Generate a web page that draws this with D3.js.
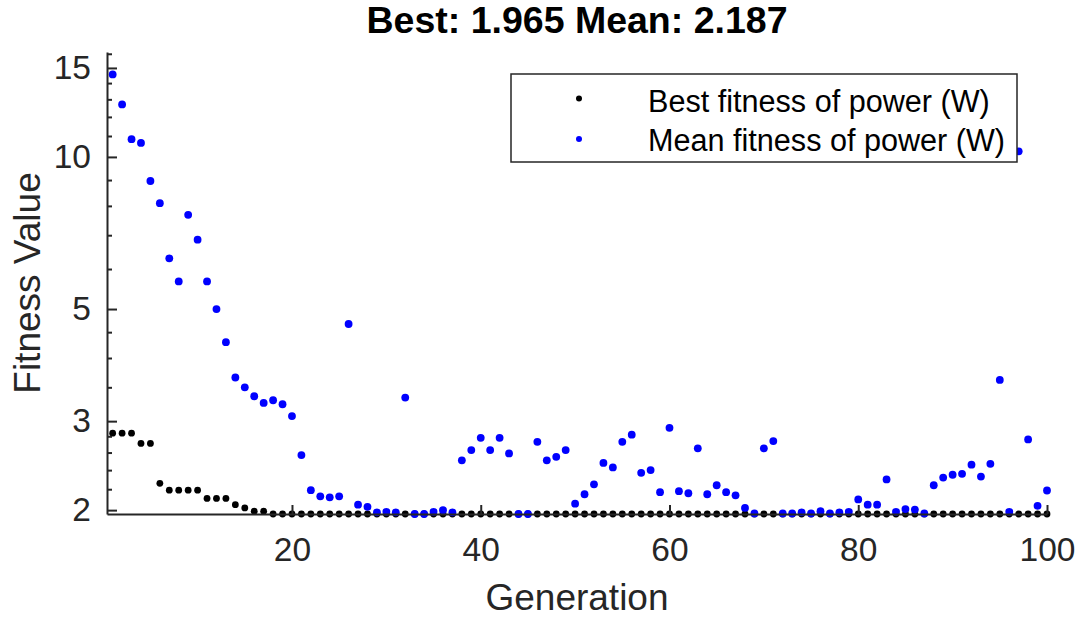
<!DOCTYPE html>
<html>
<head>
<meta charset="utf-8">
<script src="https://cdn.jsdelivr.net/npm/d3@7"></script>
<style>
  body { margin: 0; background: #fff; }
  text { font-family: "Liberation Sans", Arial, sans-serif; }
</style>
</head>
<body>
<div id="chart"></div>
<script>
// GA fitness plot, log y axis
const margin = {top: 52, right: 39, bottom: 107, left: 107};
let width = 1086, height = 621;

// best fitness per generation (1..100)
const bestFitness = [
  2.84, 2.84, 2.84, 2.71, 2.71, 2.26, 2.19, 2.19, 2.19, 2.19,
  2.11, 2.11, 2.11, 2.05, 2.02, 1.99, 1.99, 1.965, 1.965, 1.965,
  1.965, 1.965, 1.965, 1.965, 1.965, 1.965, 1.965, 1.965, 1.965, 1.965,
  1.965, 1.965, 1.965, 1.965, 1.965, 1.965, 1.965, 1.965, 1.965, 1.965,
  1.965, 1.965, 1.965, 1.965, 1.965, 1.965, 1.965, 1.965, 1.965, 1.965,
  1.965, 1.965, 1.965, 1.965, 1.965, 1.965, 1.965, 1.965, 1.965, 1.965,
  1.965, 1.965, 1.965, 1.965, 1.965, 1.965, 1.965, 1.965, 1.965, 1.965,
  1.965, 1.965, 1.965, 1.965, 1.965, 1.965, 1.965, 1.965, 1.965, 1.965,
  1.965, 1.965, 1.965, 1.965, 1.965, 1.965, 1.965, 1.965, 1.965, 1.965,
  1.965, 1.965, 1.965, 1.965, 1.965, 1.965, 1.965, 1.965, 1.965, 1.965
];

// mean fitness per generation (1..100)
const meanFitness = [
  14.56, 12.7, 10.84, 10.66, 8.96, 8.10, 6.30, 5.67, 7.68, 6.86,
  5.67, 5.0, 4.30, 3.66, 3.50, 3.36, 3.26, 3.30, 3.24, 3.07,
  2.57, 2.19, 2.13, 2.12, 2.13, 4.67, 2.05, 2.03, 1.98, 1.985,
  1.98, 3.34, 1.965, 1.965, 1.985, 2.0, 1.98, 2.51, 2.63, 2.78,
  2.63, 2.78, 2.59, 1.965, 1.965, 2.73, 2.51, 2.55, 2.63, 2.06,
  2.15, 2.25, 2.48, 2.43, 2.73, 2.82, 2.37, 2.40, 2.17, 2.91,
  2.18, 2.16, 2.65, 2.15, 2.24, 2.17, 2.14, 2.02, 1.97, 2.65,
  2.74, 1.97, 1.97, 1.98, 1.97, 1.99, 1.97, 1.98, 1.985, 2.10,
  2.05, 2.05, 2.30, 1.985, 2.01, 2.005, 1.97, 2.24, 2.32, 2.35,
  2.36, 2.46, 2.33, 2.47, 3.62, 1.985, 10.26, 2.76, 2.04, 2.187
];

const xTicks = [20, 40, 60, 80, 100];
const yTicks = [2, 3, 5, 10, 15];
const yMinorTicks = [2.2, 2.4, 2.6, 2.8, 3.5, 4, 4.5, 6, 7, 8, 9, 11, 12, 13, 14, 16];
const seriesNames = ["Best fitness of power (W)", "Mean fitness of power (W)"];
const seriesColors = ["#000000", "#0000ff"];

const axisColor = "#262626";

let svg = d3.select("#chart")
    .append("svg")
    .attr("width", width)
    .attr("height", height);

let x = d3.scaleLinear()
    .domain([0.4, 100])
    .range([margin.left, width - margin.right]);

let y = d3.scaleLog()
    .domain([1.965, 16.13])
    .range([height - margin.bottom, margin.top]);

// points: best first, mean drawn on top
let bestG = svg.append("g");
bestG.selectAll("circle")
    .data(bestFitness)
    .enter()
    .append("circle")
    .attr("cx", (d, i) => x(i + 1))
    .attr("cy", d => y(d))
    .attr("r", 3.4)
    .attr("fill", seriesColors[0]);

let meanG = svg.append("g");
meanG.selectAll("circle")
    .data(meanFitness)
    .enter()
    .append("circle")
    .attr("cx", (d, i) => x(i + 1))
    .attr("cy", d => y(d))
    .attr("r", 3.9)
    .attr("fill", seriesColors[1]);

// x axis, ticks pointing inward
let xAxis = svg.append("g")
    .attr("transform", `translate(0, ${height - margin.bottom})`)
    .call(d3.axisBottom(x).tickValues(xTicks).tickSize(-9).tickSizeOuter(0).tickPadding(23));

// y axis, minor then major
svg.append("g")
    .attr("transform", `translate(${margin.left}, 0)`)
    .call(d3.axisLeft(y).tickValues(yMinorTicks).tickFormat("").tickSize(-5).tickSizeOuter(0))
    .call(g => g.select(".domain").remove());

let yAxis = svg.append("g")
    .attr("transform", `translate(${margin.left}, 0)`)
    .call(d3.axisLeft(y).tickValues(yTicks).tickFormat(d3.format("d")).tickSize(-10).tickSizeOuter(0).tickPadding(16));

svg.selectAll(".domain, .tick line")
    .attr("stroke", axisColor)
    .attr("stroke-width", 2);

[xAxis, yAxis].forEach(a => {
  a.selectAll("text")
    .attr("fill", axisColor)
    .style("font-size", "33.5px")
    .style("font-family", "'Liberation Sans', Arial, sans-serif");
});

// labels
svg.append("text")
    .attr("x", (margin.left + width - margin.right) / 2)
    .attr("y", 610)
    .attr("text-anchor", "middle")
    .attr("fill", axisColor)
    .style("font-size", "37px")
    .text("Generation");

svg.append("text")
    .attr("transform", `translate(40, ${(margin.top + height - margin.bottom) / 2}) rotate(-90)`)
    .attr("text-anchor", "middle")
    .attr("fill", axisColor)
    .style("font-size", "37px")
    .text("Fitness Value");

svg.append("text")
    .attr("x", (margin.left + width - margin.right) / 2)
    .attr("y", 33)
    .attr("text-anchor", "middle")
    .attr("fill", "#000")
    .style("font-size", "37.5px")
    .style("font-weight", "bold")
    .text(`Best: ${bestFitness[bestFitness.length - 1].toFixed(3)} Mean: ${meanFitness[meanFitness.length - 1].toFixed(3)}`);

// legend
let legend = svg.append("g");
legend.append("rect")
    .attr("x", 511)
    .attr("y", 74)
    .attr("width", 506)
    .attr("height", 88)
    .attr("fill", "#fff")
    .attr("stroke", axisColor)
    .attr("stroke-width", 1.5);

seriesNames.forEach((name, i) => {
  legend.append("circle")
      .attr("cx", 579)
      .attr("cy", 98.5 + i * 40.5)
      .attr("r", 3)
      .attr("fill", seriesColors[i]);
  legend.append("text")
      .attr("x", 648)
      .attr("y", 111.5 + i * 39.5)
      .attr("fill", "#000")
      .style("font-size", "30.6px")
      .text(name);
});
</script>
</body>
</html>
